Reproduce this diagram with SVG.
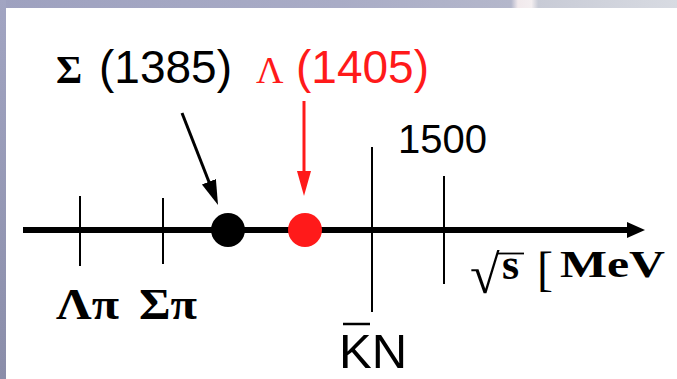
<svg xmlns="http://www.w3.org/2000/svg" width="677" height="379" viewBox="0 0 677 379">
  <defs>
    <linearGradient id="topband" x1="0" y1="0" x2="1" y2="0">
      <stop offset="0" stop-color="#9ea1bf"/>
      <stop offset="0.5" stop-color="#a9acc6"/>
      <stop offset="0.755" stop-color="#b4b7cb"/>
      <stop offset="0.765" stop-color="#f1e9ec"/>
      <stop offset="0.785" stop-color="#f3eef0"/>
      <stop offset="0.795" stop-color="#c8cbd6"/>
      <stop offset="1" stop-color="#d8dbe2"/>
    </linearGradient>
    <linearGradient id="leftband" x1="0" y1="0" x2="0" y2="1">
      <stop offset="0" stop-color="#a2a5c2"/>
      <stop offset="1" stop-color="#8a8da9"/>
    </linearGradient>
    <marker id="headBlack" markerUnits="userSpaceOnUse" markerWidth="26" markerHeight="16" refX="3" refY="7.5" orient="auto">
      <path d="M0,0 L25,7.5 L0,15 z" fill="#000"/>
    </marker>
    <marker id="headRed" markerUnits="userSpaceOnUse" markerWidth="26" markerHeight="16" refX="3" refY="7" orient="auto">
      <path d="M0,0 L25,7 L0,14 z" fill="#ff1a1a"/>
    </marker>
    <marker id="headAxis" markerUnits="userSpaceOnUse" markerWidth="20" markerHeight="18" refX="2" refY="8" orient="auto">
      <path d="M0,0 L18,8 L0,16 z" fill="#000"/>
    </marker>
  </defs>
  <style>
    .sans { font-family: "Liberation Sans", Arial, sans-serif; }
    .serif { font-family: "Liberation Serif", "Times New Roman", serif; }
    .bold { font-weight: bold; }
    .red { fill: #ff1a1a; }
    .blk { fill: #000; }
    .tick { stroke: #000; stroke-width: 2; }
  </style>

  <!-- slide background -->
  <rect x="0" y="0" width="677" height="379" fill="#ffffff"/>
  <rect x="0" y="0" width="677" height="8" fill="url(#topband)"/>
  <rect x="0" y="0" width="6" height="379" fill="url(#leftband)"/>

  <g id="axis">
    <line x1="23" y1="230" x2="629" y2="230" stroke="#000" stroke-width="6" marker-end="url(#headAxis)"/>
    <g id="axis-label">
      <text x="470" y="293" class="serif" font-size="54">√</text>
      <line x1="497" y1="253.5" x2="524" y2="253.5" stroke="#000" stroke-width="1.8"/>
      <text x="502" y="279" class="serif bold" font-size="44">s</text>
      <text x="537" y="285" class="serif" font-size="48">[</text>
      <text x="560" y="277" class="serif bold" font-size="37" textLength="105" lengthAdjust="spacingAndGlyphs">MeV</text>
    </g>
  </g>

  <g id="tick-lambda-pi">
    <line class="tick" x1="80" y1="196" x2="80" y2="266"/>
    <text x="56" y="319" class="serif bold" font-size="45" textLength="63" lengthAdjust="spacingAndGlyphs">Λπ</text>
  </g>

  <g id="tick-sigma-pi">
    <line class="tick" x1="163" y1="198" x2="163" y2="264"/>
    <text x="139" y="319" class="serif bold" font-size="45" textLength="58" lengthAdjust="spacingAndGlyphs">Σπ</text>
  </g>

  <g id="tick-kbar-n">
    <line class="tick" x1="372" y1="147" x2="372" y2="312"/>
    <line x1="343" y1="324" x2="370" y2="324" stroke="#000" stroke-width="2.5"/>
    <text x="339" y="368" class="sans" font-size="49">KN</text>
  </g>

  <g id="tick-1500">
    <line class="tick" x1="444" y1="176" x2="444" y2="284"/>
    <text x="398" y="153" class="sans" font-size="40">1500</text>
  </g>

  <g id="sigma1385">
    <circle cx="228" cy="230" r="17" fill="#000"/>
    <text x="56" y="83" class="serif bold blk" font-size="40">Σ</text>
    <text x="99" y="83" class="sans blk" font-size="46" textLength="133" lengthAdjust="spacingAndGlyphs">(1385)</text>
  </g>

  <g id="lambda1405">
    <circle cx="305" cy="230" r="17" fill="#ff1a1a"/>
    <text x="256" y="83" class="serif red" font-size="38">Λ</text>
    <text x="296" y="83" class="sans red" font-size="46" textLength="133" lengthAdjust="spacingAndGlyphs">(1405)</text>
  </g>

  <g id="connectors">
    <line x1="182" y1="113" x2="210" y2="184.5" stroke="#000" stroke-width="3" marker-end="url(#headBlack)"/>
    <line x1="304" y1="101" x2="304" y2="174" stroke="#ff1a1a" stroke-width="3" marker-end="url(#headRed)"/>
  </g>
</svg>
